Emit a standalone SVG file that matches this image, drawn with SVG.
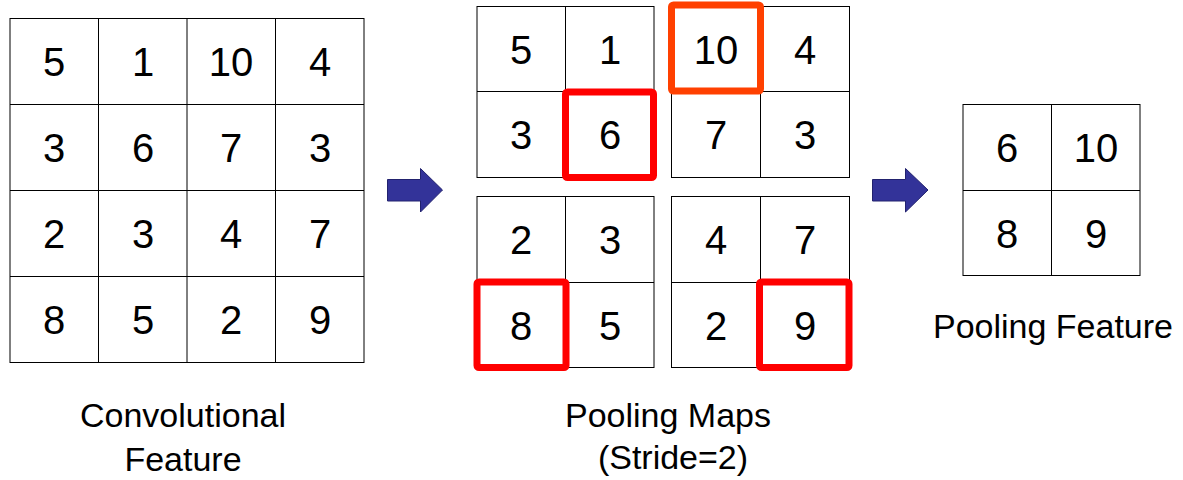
<svg xmlns="http://www.w3.org/2000/svg" width="1183" height="480" viewBox="0 0 1183 480">
<style>
.cell{fill:#fff;stroke:#000;stroke-width:1}
.num{font-family:"Liberation Sans",Arial,sans-serif;font-size:40px;fill:#000;text-anchor:middle}
.lbl{font-family:"Liberation Sans",Arial,sans-serif;font-size:34px;fill:#000;text-anchor:middle}
.hl{fill:none;stroke:#FF0000;stroke-width:7;stroke-linejoin:round}
.hlo{fill:none;stroke:#FF4000;stroke-width:7;stroke-linejoin:round}
.arrow{fill:#333399;stroke:#22226e;stroke-width:1}
</style>
<rect width="1183" height="480" fill="#fff"/>
<g id="conv-feature">
<rect class="cell" x="10" y="18.5" width="354" height="344"/>
<path d="M98.5 18.5V362.5M187 18.5V362.5M275.5 18.5V362.5M10 104.5H364M10 190.5H364M10 276.5H364" stroke="#000" stroke-width="1" fill="none"/>
<text class="num" x="54" y="76">5</text><text class="num" x="143" y="76">1</text><text class="num" x="231" y="76">10</text><text class="num" x="320" y="76">4</text>
<text class="num" x="54" y="162">3</text><text class="num" x="143" y="162">6</text><text class="num" x="231" y="162">7</text><text class="num" x="320" y="162">3</text>
<text class="num" x="54" y="248">2</text><text class="num" x="143" y="248">3</text><text class="num" x="231" y="248">4</text><text class="num" x="320" y="248">7</text>
<text class="num" x="54" y="334">8</text><text class="num" x="143" y="334">5</text><text class="num" x="231" y="334">2</text><text class="num" x="320" y="334">9</text>
<text class="lbl" x="183" y="427">Convolutional</text>
<text class="lbl" x="183" y="471">Feature</text>
</g>
<g id="pool-tl">
<rect class="cell" x="477" y="6.5" width="177" height="171"/>
<path d="M565.5 6.5V177.5M477 91.5H654" stroke="#000" fill="none"/>
<text class="num" x="521" y="64">5</text><text class="num" x="610" y="64">1</text>
<text class="num" x="521" y="149">3</text><text class="num" x="610" y="149">6</text>
</g>
<g id="pool-tr">
<rect class="cell" x="671.5" y="6.5" width="178" height="171"/>
<path d="M760.5 6.5V177.5M671.5 91.5H849.5" stroke="#000" fill="none"/>
<text class="num" x="716" y="64">10</text><text class="num" x="805" y="64">4</text>
<text class="num" x="716" y="149">7</text><text class="num" x="805" y="149">3</text>
</g>
<g id="pool-bl">
<rect class="cell" x="477" y="196.5" width="177" height="171"/>
<path d="M565.5 196.5V367.5M477 282.5H654" stroke="#000" fill="none"/>
<text class="num" x="521" y="254">2</text><text class="num" x="610" y="254">3</text>
<text class="num" x="521" y="340">8</text><text class="num" x="610" y="340">5</text>
</g>
<g id="pool-br">
<rect class="cell" x="671.5" y="196.5" width="178" height="171"/>
<path d="M760.5 196.5V367.5M671.5 282.5H849.5" stroke="#000" fill="none"/>
<text class="num" x="716" y="254">4</text><text class="num" x="805" y="254">7</text>
<text class="num" x="716" y="340">2</text><text class="num" x="805" y="340">9</text>
</g>
<g id="highlights">
<rect class="hl" x="565.5" y="92" width="88" height="85.5" rx="2"/>
<rect class="hlo" x="671.5" y="5" width="89" height="86" rx="2"/>
<rect class="hl" x="477" y="282" width="89" height="85.5" rx="2"/>
<rect class="hl" x="759.5" y="282" width="89.5" height="85.5" rx="2"/>
</g>
<text class="lbl" x="668" y="427">Pooling Maps</text>
<text class="lbl" x="673" y="469">(Stride=2)</text>
<g id="pooled-feature">
<rect class="cell" x="963" y="104.5" width="177" height="171"/>
<path d="M1051.5 104.5V275.5M963 190.5H1140" stroke="#000" fill="none"/>
<text class="num" x="1007" y="162">6</text><text class="num" x="1096" y="162">10</text>
<text class="num" x="1007" y="248">8</text><text class="num" x="1096" y="248">9</text>
<text class="lbl" x="1053" y="338">Pooling Feature</text>
</g>
<g id="connectors">
<polygon class="arrow" points="387.5,179.5 420.5,179.5 420.5,168.5 442.5,190 420.5,212 420.5,201 387.5,201"/>
<polygon class="arrow" points="872.5,179.5 905.5,179.5 905.5,168.5 928,190 905.5,212 905.5,201 872.5,201"/>
</g>
</svg>
